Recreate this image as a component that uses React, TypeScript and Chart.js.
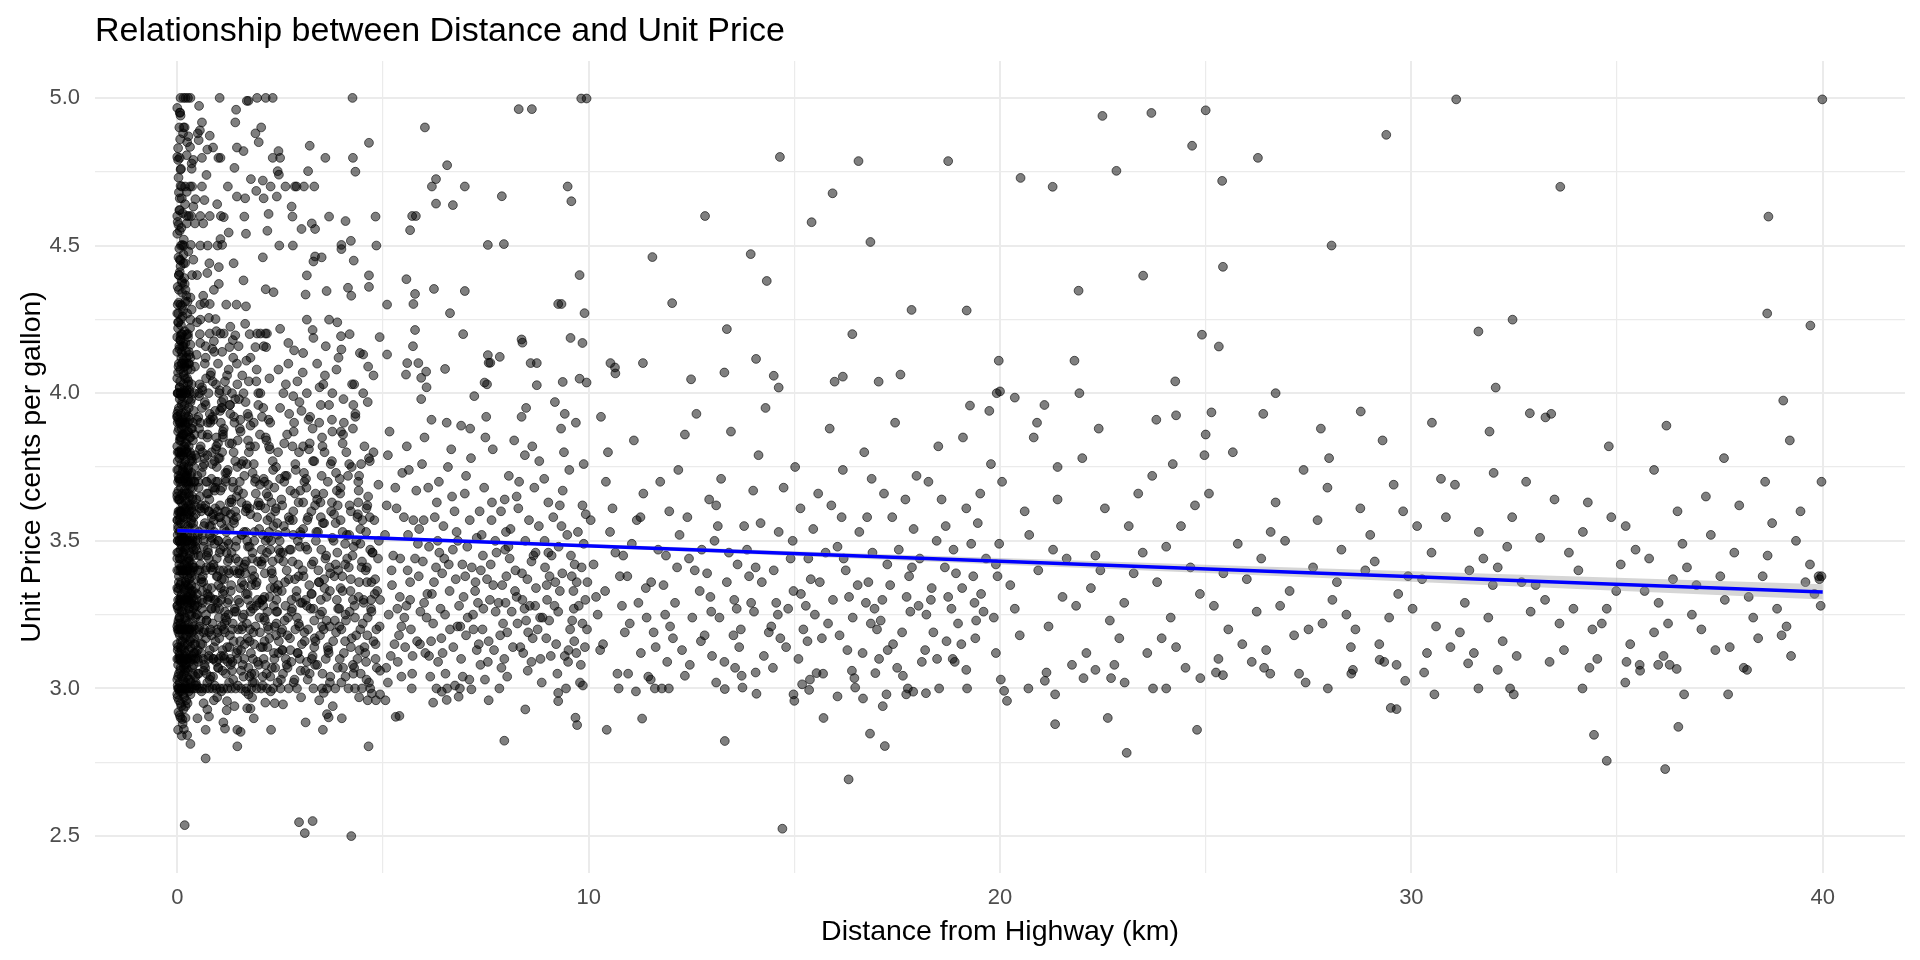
import { useEffect, useRef } from 'react';
import { Chart, registerables } from 'chart.js';

Chart.register(...registerables);

type Pt = [number, number];

const chartTitle = 'Relationship between Distance and Unit Price';
const xTitle = 'Distance from Highway (km)';
const yTitle = 'Unit Price (cents per gallon)';

const xTicks = [0, 5, 10, 15, 20, 25, 30, 35, 40];
const yTicks = [2.5, 2.75, 3, 3.25, 3.5, 3.75, 4, 4.25, 4.5, 4.75, 5];

// distance (km), unit price
const coreColumn: Pt[] = [
  [0.02,3.00],[0.05,3.00],[0.09,3.00],[0.13,3.00],[0.18,3.00],[0.22,3.00],[0.27,3.00],[0.31,3.00],[0.36,3.00],[0.41,3.00],
  [0.03,3.10],[0.07,3.10],[0.12,3.10],[0.16,3.10],[0.21,3.10],[0.26,3.10],[0.33,3.10],[0.39,3.10],
  [0.01,3.20],[0.06,3.20],[0.10,3.20],[0.15,3.20],[0.20,3.20],[0.24,3.20],[0.29,3.20],[0.35,3.20],[0.43,3.20],
  [0.02,3.30],[0.08,3.30],[0.11,3.30],[0.17,3.30],[0.23,3.30],[0.28,3.30],[0.34,3.30],[0.40,3.30],
  [0.04,3.40],[0.09,3.40],[0.14,3.40],[0.19,3.40],[0.25,3.40],[0.32,3.40],[0.38,3.40],
  [0.01,3.50],[0.06,3.50],[0.12,3.50],[0.18,3.50],[0.24,3.50],[0.30,3.50],[0.37,3.50],[0.44,3.50],
  [0.03,3.60],[0.08,3.60],[0.15,3.60],[0.21,3.60],[0.28,3.60],[0.35,3.60],
  [0.02,3.70],[0.07,3.70],[0.13,3.70],[0.20,3.70],[0.27,3.70],[0.33,3.70],[0.42,3.70],
  [0.05,3.80],[0.10,3.80],[0.16,3.80],[0.23,3.80],[0.31,3.80],
  [0.01,3.90],[0.06,3.90],[0.12,3.90],[0.19,3.90],[0.26,3.90],[0.38,3.90],
  [0.03,4.00],[0.09,4.00],[0.14,4.00],[0.22,4.00],[0.30,4.00],[0.41,4.00],
  [0.04,4.10],[0.11,4.10],[0.18,4.10],[0.29,4.10],
  [0.04,3.05],[0.11,3.04],[0.19,3.06],[0.27,3.03],[0.36,3.07],[0.02,3.14],[0.09,3.16],[0.17,3.13],[0.25,3.15],[0.33,3.17],
  [0.42,3.12],[0.05,3.24],[0.13,3.26],[0.21,3.23],[0.30,3.25],[0.39,3.27],[0.03,3.34],[0.10,3.36],[0.18,3.33],[0.26,3.35],
  [0.35,3.38],[0.44,3.34],[0.06,3.44],[0.14,3.46],[0.22,3.43],[0.31,3.45],[0.40,3.47],[0.02,3.54],[0.09,3.56],[0.17,3.53],
  [0.26,3.55],[0.34,3.57],[0.05,3.64],[0.12,3.66],[0.20,3.63],[0.29,3.65],[0.38,3.68],[0.03,3.74],[0.10,3.76],[0.18,3.73],
  [0.27,3.75],[0.36,3.77],[0.06,3.84],[0.14,3.86],[0.22,3.83],[0.32,3.85],[0.02,3.94],[0.11,3.96],[0.19,3.93],[0.28,3.95],
  [0.07,4.04],[0.16,4.06],[0.26,4.03],[0.05,4.15],[0.13,4.13],[0.02,4.22],[0.09,4.25],[0.01,2.97],[0.08,2.95],[0.15,2.98],
  [0.03,2.92],[0.22,2.96],
  [0.00,3.03],[0.17,3.08],[0.06,3.11],[0.29,3.19],[0.12,3.21],[0.02,3.27],[0.24,3.29],[0.09,3.31],[0.33,3.32],[0.15,3.39],
  [0.05,3.42],[0.27,3.41],[0.20,3.48],[0.00,3.46],[0.11,3.52],[0.32,3.51],[0.07,3.58],[0.23,3.59],[0.14,3.62],[0.03,3.67],
  [0.28,3.69],[0.18,3.71],[0.09,3.79],[0.35,3.78],[0.00,3.82],[0.21,3.81],[0.13,3.89],[0.30,3.91],[0.06,3.98],[0.17,4.01],
  [0.25,4.08],[0.02,4.07],[0.10,4.12],[0.20,4.17],[0.00,4.19],[0.14,4.28],[0.04,4.35],[0.22,4.33],[0.08,4.43],[0.16,4.52],
  [0.01,4.58],[0.11,4.66],[0.03,4.73],[0.07,4.86],
  [0.01,3.13],[0.08,3.07],[0.14,3.18],[0.20,3.12],[0.26,3.06],[0.32,3.14],[0.37,3.22],[0.03,3.23],[0.10,3.26],[0.18,3.24],
  [0.27,3.31],[0.04,3.36],[0.12,3.41],[0.21,3.35],[0.30,3.43],[0.08,3.47],[0.16,3.51],[0.26,3.58],[0.02,3.55],[0.10,3.63],
  [0.19,3.66],[0.33,3.62],[0.05,3.71],[0.13,3.74],[0.24,3.72],[0.01,3.77],[0.09,3.84],[0.17,3.82],[0.27,3.87],[0.03,3.91],
  [0.12,3.97],[0.21,3.92],[0.34,3.98],[0.06,4.02],[0.15,4.07],[0.08,4.18],[0.18,4.21],[0.28,4.14],[0.03,4.27],[0.11,4.38],
  [0.19,4.44],[0.05,4.49],[0.13,4.61],[0.02,4.79],
  [0.00,3.34],[0.00,3.57],[0.00,3.74],[0.00,3.93],[0.00,3.21],[0.00,3.10],[0.00,4.05],[0.00,3.65],[0.00,3.44],[0.00,3.28],
];

const coreExtra: Pt[] = [
  [0.01,3.01],[0.06,3.02],[0.10,2.99],[0.14,3.03],[0.19,3.01],[0.23,3.04],[0.28,2.99],[0.33,3.02],[0.38,3.05],[0.43,3.01],
  [0.02,3.08],[0.07,3.06],[0.11,3.09],[0.16,3.07],[0.21,3.08],[0.25,3.10],[0.30,3.09],[0.35,3.11],[0.40,3.08],[0.44,3.10],
  [0.00,3.15],[0.05,3.12],[0.09,3.14],[0.13,3.16],[0.18,3.15],[0.22,3.18],[0.27,3.13],[0.31,3.16],[0.36,3.19],[0.41,3.15],
  [0.03,3.19],[0.08,3.22],[0.12,3.20],[0.17,3.21],[0.21,3.24],[0.26,3.22],[0.30,3.20],[0.34,3.25],[0.39,3.21],[0.44,3.24],
  [0.01,3.28],[0.05,3.26],[0.10,3.29],[0.14,3.27],[0.19,3.30],[0.24,3.28],[0.29,3.27],[0.33,3.29],[0.38,3.31],[0.42,3.28],
  [0.02,3.33],[0.07,3.35],[0.11,3.32],[0.16,3.34],[0.20,3.36],[0.25,3.33],[0.29,3.37],[0.34,3.35],[0.39,3.33],[0.43,3.37],
  [0.00,3.40],[0.04,3.38],[0.09,3.41],[0.13,3.39],[0.18,3.42],[0.23,3.40],[0.27,3.44],[0.32,3.39],[0.36,3.42],[0.41,3.41],
  [0.03,3.46],[0.07,3.44],[0.12,3.48],[0.16,3.45],[0.21,3.47],[0.25,3.50],[0.30,3.46],[0.35,3.49],[0.40,3.45],[0.44,3.48],
  [0.01,3.52],[0.06,3.50],[0.10,3.53],[0.15,3.51],[0.19,3.55],[0.24,3.52],[0.28,3.54],[0.33,3.56],[0.37,3.51],[0.42,3.54],
  [0.02,3.59],[0.06,3.57],[0.11,3.60],[0.15,3.58],[0.20,3.61],[0.24,3.63],[0.29,3.59],[0.34,3.61],[0.39,3.58],[0.43,3.62],
  [0.00,3.66],[0.05,3.64],[0.09,3.68],[0.14,3.65],[0.18,3.67],[0.23,3.69],[0.28,3.66],[0.32,3.68],[0.37,3.65],[0.41,3.70],
  [0.03,3.72],[0.08,3.71],[0.12,3.73],[0.17,3.76],[0.21,3.72],[0.26,3.74],[0.31,3.77],[0.35,3.73],[0.40,3.75],
  [0.01,3.80],[0.05,3.78],[0.10,3.81],[0.14,3.79],[0.19,3.83],[0.23,3.80],[0.28,3.82],[0.33,3.79],[0.38,3.84],
  [0.02,3.87],[0.07,3.85],[0.11,3.88],[0.16,3.86],[0.20,3.89],[0.25,3.87],[0.30,3.85],[0.36,3.88],[0.42,3.86],
  [0.00,3.92],[0.04,3.95],[0.09,3.93],[0.13,3.91],[0.18,3.96],[0.22,3.94],[0.27,3.92],[0.32,3.97],[0.40,3.94],
  [0.01,4.00],[0.06,4.02],[0.11,3.99],[0.15,4.03],[0.20,4.00],[0.24,4.05],[0.29,4.01],[0.35,4.03],
  [0.03,4.09],[0.07,4.08],[0.12,4.10],[0.17,4.09],[0.22,4.12],[0.27,4.10],[0.33,4.08],
  [0.00,4.14],[0.05,4.16],[0.10,4.20],[0.15,4.17],[0.21,4.14],[0.26,4.19],[0.31,4.22],
  [0.02,4.24],[0.08,4.30],[0.13,4.26],[0.19,4.31],[0.24,4.27],[0.01,4.36],[0.06,4.41],[0.12,4.34],[0.17,4.39],
  [0.03,4.46],[0.09,4.50],[0.15,4.47],[0.00,4.54],[0.06,4.62],[0.10,4.56],[0.04,4.68],[0.09,4.76],[0.02,4.83],[0.05,4.90],
  [0.04,2.96],[0.10,2.94],[0.17,2.97],[0.25,2.95],[0.32,2.98],[0.06,2.91],[0.13,2.88],[0.02,2.86],
];

const coreDense: Pt[] = [
  [0.02,3.04],[0.19,3.17],[0.08,3.29],[0.27,3.43],[0.14,3.58],[0.04,3.71],[0.22,3.86],[0.11,3.99],[0.29,4.13],[0.16,3.05],
  [0.06,3.18],[0.24,3.31],[0.12,3.44],[0.01,3.57],[0.20,3.72],[0.09,3.85],[0.27,3.98],[0.15,4.11],[0.03,4.24],[0.21,3.02],
  [0.10,3.13],[0.28,3.27],[0.17,3.40],[0.05,3.53],[0.23,3.66],[0.13,3.79],[0.00,3.92],[0.19,4.05],[0.07,4.18],[0.25,4.31],
  [0.14,3.09],[0.02,3.22],[0.21,3.36],[0.09,3.49],[0.28,3.62],[0.16,3.75],[0.04,3.88],[0.23,4.01],[0.11,4.14],[0.00,4.27],
  [0.18,3.11],[0.06,3.24],[0.25,3.38],[0.13,3.51],[0.02,3.64],[0.20,3.77],[0.08,3.90],[0.27,4.04],[0.15,4.16],[0.04,4.40],
  [0.22,3.07],[0.10,3.20],[0.29,3.34],[0.17,3.47],[0.05,3.60],[0.24,3.73],[0.12,3.86],[0.01,4.00],[0.19,4.09],[0.08,4.45],
  [0.03,3.00],[0.12,3.00],[0.21,3.00],[0.07,3.10],[0.24,3.10],[0.03,3.20],[0.18,3.20],[0.06,3.30],[0.26,3.30],[0.14,3.40],
  [0.02,3.50],[0.21,3.50],[0.10,3.60],[0.25,3.70],[0.04,3.80],[0.17,3.90],[0.08,4.00],[0.23,4.10],[0.12,4.20],[0.01,4.30],
  [0.16,4.50],[0.05,4.62],[0.11,4.70],[0.00,4.80],[0.07,4.95],[0.14,4.88],[0.03,4.57],[0.18,4.37],[0.09,4.23],[0.26,4.20],
  [0.06,2.99],[0.15,2.93],[0.00,2.98],[0.20,2.90],[0.11,2.84],
];

const nearBand: Pt[] = [
  [0.48,3.00],[0.55,3.00],[0.62,3.00],[0.70,3.00],[0.78,3.00],[0.86,3.00],[0.95,3.00],[1.04,3.00],[1.12,3.00],[1.22,3.00],
  [1.31,3.00],[1.42,3.00],[1.55,3.00],[1.68,3.00],[1.80,3.00],[1.93,3.00],
  [0.50,3.10],[0.63,3.10],[0.75,3.10],[0.88,3.10],[1.01,3.10],[1.15,3.10],[1.29,3.10],[1.46,3.10],[1.63,3.10],[1.84,3.10],
  [0.52,3.20],[0.66,3.20],[0.81,3.20],[0.97,3.20],[1.13,3.20],[1.34,3.20],[1.57,3.20],[1.77,3.20],
  [0.47,3.30],[0.60,3.30],[0.74,3.30],[0.90,3.30],[1.07,3.30],[1.25,3.30],[1.48,3.30],[1.72,3.30],[1.95,3.30],
  [0.54,3.40],[0.69,3.40],[0.85,3.40],[1.03,3.40],[1.24,3.40],[1.51,3.40],[1.82,3.40],
  [0.49,3.50],[0.64,3.50],[0.82,3.50],[1.00,3.50],[1.21,3.50],[1.44,3.50],[1.70,3.50],
  [0.58,3.60],[0.77,3.60],[0.98,3.60],[1.19,3.60],[1.41,3.60],[1.66,3.60],
  [0.51,3.70],[0.72,3.70],[0.94,3.70],[1.18,3.70],[1.52,3.70],[1.89,3.70],
  [0.61,3.80],[0.84,3.80],[1.09,3.80],[1.37,3.80],[1.74,3.80],
  [0.56,3.90],[0.80,3.90],[1.06,3.90],[1.39,3.90],[1.86,3.90],
  [0.53,4.00],[0.76,4.00],[1.02,4.00],[1.33,4.00],[1.61,4.00],[1.97,4.00],
  [0.67,4.10],[0.99,4.10],[1.45,4.10],
  [0.50,3.05],[0.68,3.07],[0.87,3.04],[1.10,3.06],[1.36,3.03],[1.59,3.08],[1.88,3.05],[0.57,3.15],[0.79,3.13],[1.02,3.17],
  [1.27,3.14],[1.53,3.16],[1.79,3.12],[0.46,3.25],[0.71,3.23],[0.93,3.27],[1.17,3.24],[1.43,3.26],[1.69,3.22],[1.92,3.28],
  [0.59,3.36],[0.83,3.34],[1.08,3.37],[1.30,3.33],[1.62,3.35],[1.87,3.38],[0.52,3.45],[0.74,3.47],[0.96,3.44],[1.20,3.46],
  [1.49,3.43],[1.76,3.48],[0.65,3.55],[0.89,3.57],[1.14,3.54],[1.38,3.56],[1.67,3.53],[1.94,3.58],[0.55,3.65],[0.78,3.64],
  [1.05,3.67],[1.32,3.63],[1.60,3.66],[0.62,3.75],[0.91,3.77],[1.23,3.74],[1.56,3.76],[1.83,3.73],[0.73,3.85],[1.11,3.87],
  [1.47,3.84],[0.60,3.95],[0.92,3.94],[1.28,3.96],[1.71,3.93],[0.70,4.05],[1.16,4.04],[1.58,4.06],[0.85,4.15],[1.35,4.18],
  [1.78,4.12],[0.64,2.95],[0.97,2.97],[1.39,2.94],[1.73,2.98],
  [0.45,3.02],[0.58,3.12],[0.71,3.05],[0.83,3.18],[0.95,3.09],[1.08,3.21],[1.21,3.14],[0.49,3.28],[0.62,3.38],[0.76,3.31],
  [0.88,3.42],[1.00,3.35],[1.13,3.48],[1.26,3.39],[0.52,3.53],[0.66,3.61],[0.79,3.52],[0.92,3.68],[1.04,3.58],[1.18,3.71],
  [0.47,3.78],[0.60,3.86],[0.73,3.79],[0.86,3.92],[0.99,3.83],[1.12,3.98],[0.54,4.03],[0.69,4.12],[0.82,4.07],[0.95,4.21],
  [1.09,4.14],[0.48,4.24],[0.63,4.33],[0.78,4.44],[0.44,3.15],[0.57,3.23],[0.70,3.17],[0.84,3.27],[0.98,3.19],[1.11,3.32],
  [1.24,3.25],[0.50,3.40],[0.64,3.48],[0.77,3.44],[0.90,3.53],[1.03,3.46],[1.16,3.60],[0.46,3.64],[0.59,3.73],[0.72,3.66],
  [0.85,3.76],[0.98,3.70],[1.11,3.85],[0.53,3.88],[0.67,3.97],[0.80,3.91],[0.94,4.03],[1.07,3.95],[0.43,4.09],[0.56,4.17],
  [1.20,4.01],[0.61,3.33],[0.87,3.59],[1.14,3.37],[0.74,3.90],[1.01,3.24],[1.27,3.54],[0.51,3.09],[0.79,3.03],[1.06,3.11],
  [1.30,3.08],
];

const nearExtra: Pt[] = [
  [0.47,3.01],[0.59,2.99],[0.73,3.02],[0.91,3.01],[1.07,2.99],[1.26,3.02],[1.47,3.01],[1.66,2.99],[1.87,3.02],[2.08,3.01],
  [2.27,2.99],[2.44,3.02],
  [0.52,3.05],[0.66,3.08],[0.81,3.04],[0.99,3.07],[1.18,3.05],[1.34,3.09],[1.55,3.06],[1.76,3.04],[1.98,3.08],[2.17,3.05],[2.38,3.07],
  [0.46,3.12],[0.61,3.15],[0.77,3.11],[0.93,3.16],[1.10,3.13],[1.28,3.18],[1.44,3.12],[1.64,3.15],[1.85,3.19],[2.03,3.14],
  [2.24,3.17],[2.46,3.12],
  [0.54,3.21],[0.70,3.25],[0.86,3.22],[1.02,3.27],[1.20,3.23],[1.39,3.26],[1.58,3.21],[1.79,3.28],[2.00,3.24],[2.20,3.21],[2.41,3.26],
  [0.48,3.32],[0.63,3.36],[0.80,3.31],[0.96,3.38],[1.14,3.33],[1.31,3.35],[1.52,3.39],[1.71,3.32],[1.93,3.36],[2.12,3.31],[2.33,3.37],
  [0.56,3.42],[0.72,3.45],[0.89,3.41],[1.05,3.47],[1.23,3.43],[1.42,3.48],[1.61,3.41],[1.83,3.46],[2.05,3.42],[2.26,3.47],[2.47,3.44],
  [0.50,3.52],[0.67,3.56],[0.84,3.51],[1.01,3.58],[1.19,3.53],[1.37,3.57],[1.57,3.52],[1.78,3.59],[1.99,3.54],[2.21,3.51],[2.43,3.56],
  [0.58,3.62],[0.75,3.66],[0.92,3.61],[1.09,3.68],[1.27,3.63],[1.48,3.67],[1.69,3.62],[1.91,3.66],[2.14,3.61],[2.36,3.68],
  [0.49,3.72],[0.65,3.76],[0.83,3.71],[1.00,3.78],[1.21,3.73],[1.41,3.77],[1.63,3.72],[1.86,3.76],[2.10,3.71],[2.32,3.77],
  [0.57,3.82],[0.74,3.86],[0.94,3.81],[1.13,3.88],[1.33,3.83],[1.54,3.87],[1.77,3.82],[2.01,3.86],[2.25,3.81],
  [0.51,3.92],[0.69,3.96],[0.88,3.91],[1.08,3.97],[1.29,3.93],[1.50,3.98],[1.73,3.92],[1.97,3.96],[2.22,3.91],
  [0.60,4.02],[0.81,4.06],[1.03,4.01],[1.25,4.08],[1.46,4.03],[1.68,4.11],[1.92,4.04],[0.47,4.13],[0.90,4.14],[1.36,4.12],
  [0.44,3.04],[0.53,3.18],[0.62,3.29],[0.71,3.41],[0.78,3.55],[0.87,3.68],[0.95,3.82],[1.04,3.94],[1.12,3.40],[1.22,3.29],
  [1.32,3.46],[1.43,3.58],[1.53,3.34],[1.62,3.25],[1.72,3.48],[1.82,3.37],[1.90,3.21],[2.02,3.62],[2.13,3.39],[2.23,3.53],
  [2.35,3.28],[2.45,3.35],
  [0.46,3.47],[0.55,3.61],[0.64,3.19],[0.73,3.34],[0.82,3.27],[0.91,3.49],[0.99,3.29],[1.07,3.56],[1.16,3.19],[1.26,3.44],
  [1.35,3.22],[1.46,3.39],[1.56,3.63],[1.67,3.43],[1.76,3.16],[1.88,3.53],[1.96,3.43],[2.07,3.30],[2.18,3.46],[2.29,3.63],
  [2.40,3.18],
];

const nearDense: Pt[] = [
  [0.31,3.03],[1.37,3.16],[0.82,3.55],[2.09,3.28],[0.55,3.81],[1.64,3.42],[1.09,3.95],[2.21,3.69],[0.43,3.28],[1.93,4.08],
  [0.68,3.62],[1.23,3.09],[0.96,3.75],[2.37,3.21],[1.52,3.88],[0.36,3.48],[1.80,3.35],[0.61,4.01],[2.08,3.52],[1.16,3.26],
  [0.89,3.14],[1.44,3.65],[2.30,3.39],[0.48,3.91],[1.73,3.07],[1.03,3.78],[2.01,3.19],[0.75,3.46],[1.30,3.59],[2.44,3.33],
  [0.33,3.72],[1.59,3.24],[0.86,4.04],[1.87,3.50],[1.13,3.11],[2.15,3.85],[0.58,3.37],[1.41,3.98],[1.98,3.63],[0.41,3.17],
  [1.69,3.76],[0.93,3.30],[2.26,3.04],[1.19,3.57],[0.52,3.68],[1.78,3.89],[0.71,3.23],[2.40,3.61],[1.27,3.83],[0.38,3.41],
  [1.55,3.13],[0.99,3.50],[2.04,3.43],[0.64,3.06],[1.84,3.27],[1.35,3.70],[0.45,3.59],[2.12,3.16],[0.79,3.93],[1.62,3.53],
  [1.06,3.34],[2.33,3.74],[0.34,3.88],[1.48,3.20],[0.91,3.67],[1.95,3.09],[0.57,3.45],[2.19,3.57],[1.21,4.06],[0.73,3.32],
  [1.75,3.61],[0.40,3.12],[1.11,3.86],[2.47,3.47],[0.66,3.78],[1.38,3.40],[1.90,3.71],[0.49,3.25],[1.66,3.97],[0.84,3.58],
  [2.24,3.31],[1.00,3.07],[1.57,3.36],[0.37,3.64],[2.06,3.92],[0.77,3.19],[1.32,3.64],[0.53,3.99],[1.82,3.44],[1.15,3.22],
  [0.95,3.85],[2.35,3.12],[0.62,3.52],[1.46,3.75],[2.00,3.29],[0.35,3.33],[1.25,3.49],[0.81,3.41],[1.71,3.17],[2.17,3.66],
  [0.44,3.79],[1.04,3.62],[1.61,3.04],[0.70,3.70],[1.89,3.82],[0.50,3.13],[1.40,3.27],[2.28,3.50],[0.87,3.10],[1.17,3.73],
  [0.39,3.56],[1.53,3.91],[0.98,3.38],[2.11,3.24],[0.60,3.27],[1.80,3.05],[0.32,4.12],[1.28,3.96],[0.76,3.60],[1.67,3.32],
];

const midBand: Pt[] = [
  [2.04,3.00],[2.18,3.00],[2.33,3.00],[2.51,3.00],[2.71,3.00],[2.91,3.00],[3.31,3.00],[3.52,3.00],[3.64,3.00],[3.84,3.00],
  [4.16,3.00],[4.32,3.00],[4.49,3.00],[4.69,3.00],
  [2.10,3.10],[2.36,3.10],[2.64,3.10],[2.98,3.10],[3.27,3.10],[3.61,3.10],[3.95,3.10],[4.38,3.10],[4.82,3.10],
  [2.22,3.20],[2.55,3.20],[2.87,3.20],[3.18,3.20],[3.56,3.20],[3.99,3.20],[4.45,3.20],
  [2.07,3.30],[2.41,3.30],[2.78,3.30],[3.12,3.30],[3.49,3.30],[3.88,3.30],[4.27,3.30],[4.71,3.30],
  [2.29,3.40],[2.66,3.40],[3.05,3.40],[3.43,3.40],[3.91,3.40],[4.58,3.40],
  [2.15,3.50],[2.49,3.50],[2.93,3.50],[3.37,3.50],[3.80,3.50],[4.35,3.50],[4.90,3.50],
  [2.38,3.60],[2.82,3.60],[3.26,3.60],[3.74,3.60],[4.22,3.60],
  [2.12,3.70],[2.60,3.70],[3.09,3.70],[3.66,3.70],[4.40,3.70],
  [2.45,3.80],[2.96,3.80],[3.58,3.80],[4.11,3.80],[4.77,3.80],
  [2.26,3.90],[2.84,3.90],[3.45,3.90],[4.05,3.90],
  [2.02,4.00],[2.58,4.00],[3.15,4.00],[3.77,4.00],[4.52,4.00],
  [2.70,4.10],[3.40,4.10],
  [2.08,3.04],[2.30,3.07],[2.57,3.05],[2.85,3.03],[3.11,3.06],[3.40,3.08],[3.72,3.04],[4.03,3.07],[4.28,3.05],[4.60,3.03],
  [4.93,3.06],[2.19,3.14],[2.47,3.16],[2.75,3.13],[3.03,3.15],[3.34,3.17],[3.68,3.12],[4.08,3.16],[4.55,3.14],[2.13,3.23],
  [2.43,3.26],[2.69,3.24],[2.95,3.22],[3.24,3.27],[3.47,3.25],[3.83,3.23],[4.19,3.26],[4.63,3.24],[2.27,3.34],[2.62,3.36],
  [2.90,3.33],[3.21,3.35],[3.57,3.37],[3.97,3.34],[4.42,3.36],[4.86,3.33],[2.11,3.44],[2.51,3.46],[2.80,3.43],[3.16,3.47],
  [3.62,3.45],[4.13,3.44],[4.74,3.46],[2.34,3.55],[2.73,3.57],[3.06,3.54],[3.54,3.56],[4.02,3.53],[4.50,3.57],[2.21,3.65],
  [2.53,3.64],[2.99,3.67],[3.48,3.63],[3.96,3.66],[4.64,3.65],[2.40,3.75],[2.88,3.74],[3.33,3.77],[3.86,3.73],[4.47,3.76],
  [2.17,3.84],[2.67,3.86],[3.22,3.83],[3.98,3.87],[2.50,3.95],[3.02,3.94],[3.69,3.96],[4.33,3.93],[2.24,4.05],[2.92,4.04],
  [3.59,4.06],[4.25,4.03],[2.37,2.95],[3.01,2.97],[3.78,2.94],[4.42,2.97],
  [1.33,3.06],[1.51,3.29],[1.69,3.61],[1.87,3.15],[2.05,3.47],[2.23,3.82],[2.41,3.22],[2.59,3.55],[2.77,3.09],[2.95,3.38],
  [3.13,3.71],[3.31,3.27],[3.49,3.58],[3.67,3.13],[3.85,3.42],[4.03,3.86],[4.21,3.33],[4.39,3.59],[4.57,3.12],[4.75,3.46],
  [4.93,3.30],[1.42,3.44],[1.60,3.77],[1.78,3.26],[1.96,3.62],[2.14,3.08],[2.32,3.43],[2.50,3.71],[2.68,3.18],[2.86,3.66],
  [3.04,3.29],[3.22,3.05],[3.40,3.64],[3.58,3.34],[3.76,3.77],[3.94,3.21],[4.12,3.52],[4.30,3.07],[4.48,3.41],[4.66,3.78],
  [4.84,3.20],[1.38,3.92],[1.74,4.04],[2.09,3.95],[2.46,4.08],[2.82,3.99],[3.19,3.91],[3.55,4.03],[3.92,4.12],[4.28,3.96],
  [4.64,4.09],[1.56,3.52],[1.91,3.35],[2.27,3.58],[2.63,3.28],[2.99,3.53],[3.36,3.16],[3.72,3.39],[4.09,3.25],[4.45,3.54],
  [4.81,3.37],[1.47,3.13],[1.83,3.02],[2.19,3.26],[2.55,3.13],[2.91,3.24],[3.27,3.42],[3.63,3.23],[3.99,3.02],[4.35,3.18],
  [4.71,3.27],[1.65,3.39],[2.01,3.69],[2.37,3.34],[2.73,3.47],[3.09,3.19],[3.45,3.36],[3.81,3.59],[4.17,3.41],[4.53,3.29],
  [4.89,3.69],[1.36,3.68],[1.72,3.84],[2.08,3.14],[2.44,3.52],[2.80,3.82],[3.16,3.57],[3.52,3.85],[3.88,3.67],[4.24,3.75],
  [4.60,3.61],
];

const midExtra: Pt[] = [
  [2.52,3.03],[2.68,3.07],[2.83,3.02],[3.00,3.06],[3.17,3.03],[3.35,3.08],[3.53,3.05],[3.71,3.02],[3.90,3.07],[4.09,3.04],
  [4.27,3.08],[4.46,3.05],[4.66,3.02],[4.85,3.07],
  [2.56,3.13],[2.74,3.17],[2.92,3.12],[3.10,3.16],[3.29,3.11],[3.47,3.18],[3.66,3.14],[3.86,3.19],[4.05,3.12],[4.24,3.17],
  [4.43,3.13],[4.62,3.18],[4.82,3.15],
  [2.61,3.23],[2.79,3.27],[2.97,3.21],[3.15,3.28],[3.33,3.23],[3.52,3.26],[3.71,3.21],[3.91,3.27],[4.10,3.23],[4.31,3.28],
  [4.51,3.22],[4.72,3.26],[4.92,3.21],
  [2.54,3.33],[2.71,3.37],[2.89,3.31],[3.07,3.38],[3.26,3.32],[3.44,3.36],[3.63,3.31],[3.82,3.38],[4.02,3.33],[4.22,3.37],
  [4.41,3.31],[4.61,3.36],[4.80,3.32],
  [2.58,3.43],[2.76,3.47],[2.94,3.42],[3.12,3.48],[3.31,3.43],[3.50,3.47],[3.70,3.41],[3.89,3.46],[4.08,3.42],[4.29,3.48],
  [4.49,3.43],[4.69,3.47],
  [2.63,3.53],[2.81,3.57],[3.00,3.52],[3.18,3.58],[3.38,3.53],[3.57,3.56],[3.77,3.51],[3.97,3.57],[4.18,3.52],[4.38,3.58],
  [4.59,3.53],[4.79,3.57],
  [2.55,3.62],[2.75,3.67],[2.95,3.63],[3.14,3.68],[3.35,3.62],[3.55,3.66],[3.76,3.63],[3.97,3.68],[4.19,3.62],[4.41,3.67],[4.62,3.62],
  [2.66,3.72],[2.87,3.76],[3.08,3.73],[3.30,3.77],[3.51,3.72],[3.73,3.76],[3.95,3.71],[4.18,3.76],[4.42,3.72],[4.68,3.77],
  [2.60,3.83],[2.83,3.87],[3.06,3.82],[3.29,3.88],[3.53,3.82],[3.77,3.87],[4.02,3.83],[4.27,3.88],[4.55,3.82],
  [2.72,3.93],[2.97,3.97],[3.23,3.92],[3.49,3.96],[3.76,3.91],[4.04,3.98],[4.33,3.92],[4.63,3.97],
  [2.64,4.03],[3.05,4.07],[3.46,4.02],[3.87,4.08],[4.30,4.03],[4.77,4.06],
  [2.53,3.19],[3.71,3.33],[2.98,3.48],[4.22,3.14],[3.36,3.66],[4.61,3.41],[2.71,3.58],[3.94,3.27],[3.15,3.09],[4.40,3.63],
  [2.86,3.37],[4.08,3.49],[3.52,3.21],[4.77,3.16],[2.62,3.72],[3.85,3.56],[3.27,3.32],[4.53,3.30],[2.93,3.12],[4.15,3.72],
  [3.60,3.44],[4.88,3.44],[2.78,3.26],[4.01,3.38],[3.42,3.53],[4.68,3.58],[3.06,3.63],[4.32,3.24],[2.57,3.46],[3.79,3.16],
  [3.20,3.81],[4.45,3.49],[2.66,3.08],[3.90,3.62],[3.33,3.14],[4.59,3.09],[3.00,3.29],[4.26,3.45],[2.82,3.52],[4.72,3.36],
];

const outerBand: Pt[] = [
  [5.12,3.02],[5.45,3.21],[5.78,3.44],[6.03,3.12],[6.31,3.63],[6.52,3.05],[6.77,3.37],[7.02,3.18],[7.28,3.51],[7.55,3.09],
  [7.81,3.29],[8.06,3.72],[8.34,3.14],[8.61,3.43],[8.88,3.24],[9.14,3.58],[9.42,3.11],[9.71,3.36],[9.96,3.20],
  [5.22,3.35],[5.51,3.58],[5.83,3.16],[6.12,3.48],[6.40,3.27],[6.66,3.81],[6.93,3.42],[7.19,3.25],[7.46,3.68],[7.70,3.13],
  [7.97,3.47],[8.25,3.31],[8.52,3.06],[8.79,3.55],[9.05,3.38],[9.33,3.88],[9.60,3.23],[9.88,3.49],
  [5.05,3.52],[5.36,3.09],[5.66,3.30],[5.95,3.76],[6.22,3.22],[6.47,3.55],[6.71,3.14],[6.99,3.66],[7.24,3.33],[7.51,3.92],
  [7.76,3.46],[8.02,3.19],[8.29,3.61],[8.57,3.28],[8.83,3.10],[9.10,3.45],[9.37,3.67],[9.65,3.16],[9.92,3.30],
  [5.30,3.68],[5.60,3.40],[5.91,3.26],[6.18,3.91],[6.45,3.12],[6.82,3.50],[7.10,3.03],[7.38,3.40],[7.64,3.57],[7.92,3.22],
  [8.19,3.84],[8.46,3.50],[8.72,3.34],[8.97,3.17],[9.26,3.26],[9.53,3.74],[9.81,3.08],
  [5.16,3.87],[5.42,3.44],[5.72,3.11],[6.08,3.32],[6.36,3.70],[6.60,3.42],[6.88,3.21],[7.14,3.78],[7.42,3.20],[7.68,3.35],
  [7.95,3.10],[8.22,3.40],[8.48,3.95],[8.76,3.20],[9.02,3.63],[9.30,3.33],[9.57,3.45],[9.85,3.62],
  [5.28,3.15],[5.57,3.28],[5.88,3.54],[6.15,3.04],[6.44,3.39],[6.74,3.60],[7.05,3.48],[7.33,3.15],[7.60,3.30],[7.87,3.60],
  [8.13,3.26],[8.41,3.12],[8.68,3.68],[8.94,3.41],[9.21,3.15],[9.48,3.52],[9.76,3.28],
  [5.09,3.62],[5.63,3.74],[6.26,3.58],[6.90,3.89],[7.48,3.03],[8.10,3.54],[8.63,3.82],[9.18,3.97],[9.69,3.90],[5.93,3.98],
  [7.22,3.99],[8.37,3.92],[6.56,3.00],[7.83,3.00],[9.45,3.00],[5.70,3.00],
  [5.14,3.25],[5.41,3.31],[5.68,3.20],[5.97,3.43],[6.24,3.36],[6.51,3.25],[6.79,3.53],[7.06,3.24],[7.35,3.60],[7.62,3.42],
  [7.90,3.35],[8.16,3.14],[8.44,3.27],[8.71,3.46],[8.99,3.30],[9.27,3.48],[9.55,3.20],[9.83,3.41],
  [5.25,3.45],[5.54,3.14],[5.81,3.67],[6.06,3.24],[6.33,3.50],[6.62,3.33],[6.90,3.10],[7.16,3.41],[7.44,3.27],[7.73,3.50],
  [8.00,3.38],[8.27,3.22],[8.55,3.57],[8.82,3.24],[9.08,3.11],[9.36,3.39],[9.63,3.33],[9.91,3.14],
  [5.35,3.27],[5.87,3.38],[6.42,3.17],[6.96,3.31],[7.53,3.37],[8.08,3.44],[8.64,3.17],[9.19,3.36],[9.74,3.53],[5.61,3.52],
  [6.17,3.16],[6.70,3.47],[7.28,3.13],[7.85,3.18],[8.39,3.30],[8.93,3.50],[9.50,3.09],[5.19,3.11],[5.74,3.57],[6.29,3.41],
  [6.85,3.28],[7.40,3.52],[7.98,3.29],[8.51,3.37],[9.04,3.23],[9.59,3.38],[5.47,3.73],[6.58,3.75],[7.67,3.81],[8.80,3.77],
  [9.40,3.80],[6.01,3.85],[7.12,3.88],[8.25,3.65],
];

const outerExtra: Pt[] = [
  [5.08,3.07],[5.39,3.18],[5.71,3.05],[6.00,3.29],[6.34,3.09],[6.63,3.20],[6.94,3.04],[7.25,3.36],[7.57,3.16],[7.88,3.07],
  [8.21,3.33],[8.53,3.19],[8.86,3.02],[9.17,3.28],[9.51,3.13],[9.85,3.22],
  [5.21,3.40],[5.52,3.24],[5.85,3.49],[6.19,3.32],[6.49,3.44],[6.81,3.21],[7.11,3.57],[7.43,3.45],[7.74,3.26],[8.05,3.48],
  [8.38,3.39],[8.70,3.28],[9.02,3.46],[9.34,3.55],[9.66,3.42],[9.97,3.36],
  [5.33,3.61],[5.66,3.36],[5.99,3.57],[6.37,3.46],[6.68,3.65],[7.00,3.38],[7.31,3.29],[7.65,3.63],[7.99,3.53],[8.31,3.70],
  [8.66,3.45],[8.98,3.35],[9.30,3.62],[9.64,3.27],[9.93,3.59],
  [5.12,3.79],[5.58,3.82],[6.10,3.68],[6.55,3.90],[7.02,3.72],[7.49,3.85],[7.96,3.64],[8.45,3.79],[8.92,3.71],[9.42,3.93],
  [9.88,3.76],
  [5.45,3.04],[6.12,3.11],[6.75,3.01],[7.37,3.08],[8.02,3.04],[8.61,3.09],[9.24,3.05],[9.79,3.02],[5.90,3.15],[7.20,3.20],
  [8.48,3.23],[9.70,3.12],
];

const tenToTwenty: Pt[] = [
  [10.12,3.42],[10.35,3.15],[10.58,3.61],[10.81,3.28],[11.05,3.49],[11.27,3.12],[11.52,3.36],[11.74,3.70],[11.98,3.21],[12.21,3.52],
  [12.46,3.08],[12.70,3.33],[12.93,3.64],[13.18,3.24],[13.41,3.46],[13.66,3.14],[13.90,3.38],[14.13,3.79],[14.38,3.19],[14.62,3.53],
  [14.85,3.27],[15.10,3.10],[15.34,3.44],[15.58,3.66],[15.82,3.22],[16.05,3.48],[16.29,3.13],[16.54,3.35],[16.77,3.58],[17.01,3.20],
  [17.26,3.42],[17.50,3.07],[17.73,3.31],[17.97,3.72],[18.21,3.25],[18.46,3.50],[18.70,3.16],[18.93,3.39],[19.18,3.61],[19.42,3.23],
  [19.66,3.44],[19.90,3.12],
  [10.22,3.25],[10.47,3.80],[10.70,3.05],[10.94,3.38],[11.17,3.57],[11.41,3.24],[11.63,3.14],[11.88,3.45],[12.10,3.29],[12.34,3.86],
  [12.58,3.40],[12.82,3.18],[13.06,3.50],[13.30,3.09],[13.54,3.30],[13.78,3.55],[14.02,3.26],[14.26,3.11],[14.50,3.40],[14.74,3.68],
  [14.98,3.33],[15.22,3.20],[15.46,3.54],[15.70,3.05],[15.94,3.30],[16.18,3.74],[16.42,3.24],[16.66,3.12],[16.90,3.46],[17.14,3.30],
  [17.38,3.58],[17.62,3.19],[17.86,3.41],[18.10,3.09],[18.34,3.34],[18.58,3.64],[18.82,3.27],[19.06,3.15],[19.30,3.49],[19.54,3.32],
  [19.78,3.76],
  [10.05,3.57],[10.40,3.33],[10.88,3.19],[11.33,3.66],[11.82,3.35],[12.27,3.13],[12.75,3.47],[13.22,3.71],[13.70,3.20],[14.18,3.56],
  [14.66,3.17],[15.15,3.61],[15.62,3.36],[16.10,3.18],[16.58,3.53],[17.06,3.10],[17.54,3.47],[18.02,3.28],[18.50,3.82],[18.98,3.22],
  [19.46,3.56],[19.94,3.38],
  [10.30,3.92],[11.10,3.84],[11.96,3.60],[12.62,3.93],[13.46,3.87],[14.30,3.95],[15.02,3.75],[15.86,3.88],[16.70,3.80],[17.45,3.90],
  [18.26,3.70],[19.10,3.85],[19.74,3.94],
  [10.65,3.46],[11.45,3.04],[12.15,3.41],[12.98,3.26],[13.85,3.47],[14.56,3.29],[15.40,3.37],[16.25,3.40],[17.18,3.66],[17.90,3.54],
  [18.66,3.41],[19.60,3.26],[13.10,3.62],[16.95,3.27],
  [10.18,3.31],[10.76,3.38],[11.21,3.29],[11.69,3.47],[12.05,3.17],[12.52,3.24],[12.88,3.39],[13.36,3.36],[13.95,3.29],[14.44,3.21],
  [14.91,3.44],[15.28,3.28],[15.76,3.46],[16.33,3.31],[16.86,3.22],[17.33,3.35],[17.82,3.26],[18.38,3.19],[18.87,3.47],[19.35,3.38],
  [19.85,3.24],
  [10.52,3.53],[11.00,3.22],[11.58,3.19],[12.40,3.58],[13.00,3.11],[13.62,3.42],[14.21,3.36],[14.80,3.14],[15.50,3.25],[16.15,3.58],
  [16.80,3.36],[17.40,3.15],[18.05,3.44],[18.74,3.31],[19.40,3.17],[19.98,3.49],
  [10.28,3.13],[10.84,3.45],[11.39,3.34],[11.91,3.09],[12.44,3.44],[12.96,3.31],[13.52,3.18],[14.06,3.41],[14.60,3.25],[15.16,3.32],
  [15.67,3.17],[16.20,3.44],[16.74,3.29],[17.27,3.13],[17.79,3.38],[18.32,3.30],[18.85,3.10],[19.38,3.29],[19.90,3.42],
  [10.42,3.70],[11.26,3.58],[12.18,3.74],[13.14,3.55],[14.00,3.67],[14.96,3.50],[15.90,3.62],[16.88,3.71],[17.70,3.64],[18.68,3.55],
  [19.52,3.66],
  [10.96,3.05],[11.86,3.25],[12.73,3.16],[13.60,3.27],[14.48,3.07],[15.32,3.16],[16.40,3.06],[17.10,3.23],[18.18,3.13],[19.08,3.34],
];

const farBand: Pt[] = [
  [20.25,3.35],[20.71,3.52],[21.18,3.21],[21.62,3.44],[22.10,3.12],[22.55,3.61],[23.02,3.29],[23.47,3.46],[23.93,3.17],[24.40,3.55],
  [24.86,3.32],[25.31,3.10],[25.78,3.49],[26.24,3.26],[26.70,3.63],[27.15,3.18],[27.61,3.41],[28.08,3.30],[28.53,3.14],[29.00,3.52],
  [29.46,3.24],[29.92,3.38],[30.38,3.12],[30.84,3.58],[31.30,3.29],[31.75,3.44],[32.22,3.16],[32.68,3.36],[33.13,3.51],[33.60,3.22],
  [34.06,3.40],[34.52,3.10],[34.98,3.33],[35.45,3.47],[35.90,3.19],[36.36,3.37],[36.82,3.25],[37.28,3.52],[37.74,3.14],[38.20,3.31],
  [38.66,3.45],[39.12,3.21],[39.58,3.36],[39.95,3.28],
  [20.05,3.70],[20.48,3.18],[20.93,3.40],[21.40,3.64],[21.85,3.28],[22.32,3.45],[22.78,3.08],[23.25,3.39],[23.70,3.72],[24.15,3.24],
  [24.63,3.41],[25.08,3.66],[25.55,3.20],[26.00,3.37],[26.47,3.13],[26.93,3.50],[27.38,3.74],[27.84,3.22],[28.30,3.47],[28.76,3.61],
  [29.22,3.15],[29.68,3.32],[30.14,3.55],[30.60,3.21],[31.06,3.69],[31.52,3.12],[31.98,3.35],[32.45,3.58],[32.90,3.26],[33.36,3.09],
  [33.83,3.46],[34.29,3.63],[34.75,3.27],[35.21,3.55],[35.67,3.33],[36.13,3.11],[36.59,3.49],[37.05,3.20],[37.51,3.38],[37.97,3.62],
  [38.43,3.17],[38.89,3.27],[39.35,3.50],[39.80,3.32],
  [20.36,3.27],[20.82,3.85],[21.29,3.47],[21.75,3.08],[22.21,3.34],[22.67,3.23],[23.13,3.55],[23.58,3.12],[24.04,3.48],[24.51,3.07],
  [24.97,3.79],[25.43,3.39],[25.89,3.15],[26.35,3.44],[26.81,3.28],[27.27,3.05],[27.72,3.57],[28.19,3.36],[28.64,3.20],[29.11,3.43],
  [29.57,3.69],[30.03,3.27],[30.49,3.46],[30.95,3.14],[31.41,3.40],[31.87,3.24],[32.33,3.48],[32.79,3.70],[33.25,3.30],[33.71,3.13],
  [34.17,3.53],[34.63,3.22],[35.09,3.42],[35.55,3.08],[36.01,3.29],[36.47,3.60],[36.93,3.35],[37.39,3.13],[37.85,3.46],[38.31,3.24],
  [38.77,3.56],[39.23,3.11],[39.69,3.42],
  [20.60,3.60],[21.08,3.96],[21.52,3.31],[22.00,3.78],[22.44,3.40],[22.90,3.17],[23.36,3.66],[23.82,3.36],[24.28,3.14],[24.74,3.62],
  [25.20,3.28],[25.66,3.80],[26.12,3.09],[26.58,3.53],[27.04,3.33],[27.50,3.20],[27.96,3.68],[28.42,3.25],[28.88,3.40],[29.34,3.09],
  [29.80,3.60],[30.26,3.37],[30.72,3.71],[31.18,3.19],[31.64,3.53],[32.10,3.41],[32.56,3.11],[33.02,3.35],[33.48,3.64],[33.94,3.27],
  [34.40,3.20],[34.86,3.58],[35.32,3.15],[35.78,3.44],[36.24,3.22],[36.70,3.41],[37.16,3.65],[37.62,3.30],[38.08,3.07],[38.54,3.38],
  [39.00,3.18],[39.46,3.60],[39.90,3.38],
  [20.90,3.90],[22.40,3.88],[23.80,3.91],[25.00,3.86],[26.40,3.93],[27.80,3.88],[29.30,3.84],[30.50,3.90],[31.90,3.87],[33.40,3.93],
  [34.80,3.82],[36.20,3.89],[37.60,3.78],[39.20,3.84],[21.40,3.75],[24.20,3.76],[28.00,3.78],[32.00,3.73],[35.90,3.74],[38.60,3.70],
  [39.97,3.70],[39.97,3.38],[39.92,3.37],
];

const highNear: Pt[] = [
  [0.08,5.0],[0.15,5.0],[0.2,5.0],[0.26,5.0],[0.32,5.0],[1.03,5.0],[1.69,4.99],[1.73,4.99],[1.94,5.0],[2.15,5.0],[2.32,5.0],[4.26,5.0],
  [0.53,4.973],[1.43,4.96],[0.0,4.966],[0.06,4.95],[0.08,4.94],[1.41,4.917],[0.6,4.917],[0.15,4.9],[0.18,4.9],[0.55,4.89],[0.5,4.88],
  [2.04,4.9],[1.9,4.88],[1.98,4.85],[0.79,4.872],[0.27,4.87],[0.24,4.85],[0.31,4.834],[0.52,4.857],[0.87,4.832],[0.73,4.825],[3.22,4.838],
  [4.66,4.848],[1.45,4.832],[1.61,4.82],[2.46,4.82],[2.32,4.797],[2.5,4.797],[3.6,4.797],[4.27,4.797],[0.06,4.797],[0.23,4.806],[0.39,4.79],
  [0.6,4.797],[1.0,4.797],[1.05,4.797],[0.35,4.778],[0.08,4.757],[0.35,4.76],[1.39,4.763],[2.44,4.752],[2.47,4.74],[3.18,4.752],[4.33,4.75],
  [0.71,4.739],[1.79,4.725],[2.08,4.72],
  [1.23,4.7],[1.92,4.685],[2.27,4.7],[2.63,4.7],[2.86,4.7],[2.9,4.7],[3.08,4.7],[3.33,4.7],[0.08,4.702],[0.19,4.7],[0.31,4.7],[0.36,4.7],
  [0.6,4.7],[0.23,4.682],
  [0.06,4.66],[0.19,4.64],[0.44,4.657],[0.66,4.654],[1.45,4.666],[1.65,4.66],[2.1,4.66],[2.42,4.666],[0.39,4.632],[0.97,4.64],[2.78,4.632],
  [2.22,4.607],[2.8,4.598],[3.69,4.598],[4.09,4.583],[4.82,4.598],[0,4.6],[0.23,4.6],[0.28,4.6],[0.34,4.6],[0.56,4.6],[0.79,4.6],[1.06,4.6],
  [1.13,4.596],[1.63,4.598],[0.23,4.575],[0.43,4.575],[0.63,4.575],[0.06,4.55],
  [1.05,4.522],[1.25,4.544],[1.09,4.502],[1.67,4.54],[2.19,4.55],[3.02,4.556],[3.27,4.575],[3.35,4.556],[3.99,4.488],[4.22,4.516],
  [3.99,4.502],[4.29,4.449],
  [0.12,4.502],[0.33,4.502],[0.56,4.5],[0.74,4.5],[0.98,4.5],[2.48,4.5],[2.81,4.5],[4.84,4.5],
  [0.27,4.48],[0.06,4.452],[0.15,4.44],[0.39,4.452],[1.37,4.44],[2.08,4.46],[3.35,4.463],[3.51,4.46],[3.31,4.446],
  [0.36,4.4],[0.48,4.4],[0.73,4.407],[1.01,4.427],[0.04,4.4],[3.15,4.399],[4.66,4.399],
  [0.12,4.373],[0.2,4.35],[0.89,4.35],[1.01,4.37],[1.61,4.382],[2.15,4.352],[2.34,4.342],[3.12,4.334],[3.63,4.346],[4.15,4.357],
  [4.23,4.33],[4.66,4.36],
  [0.04,4.307],[0.12,4.296],[0.32,4.324],[0.35,4.283],[0.56,4.3],[0.66,4.305],[0.79,4.302],[1.19,4.3],[1.44,4.3],[1.67,4.294],[5.1,4.3],
  [0.32,4.249],[0.56,4.249],[0.77,4.255],[0.93,4.251],[1.65,4.235],[3.15,4.249],[3.69,4.249],[3.89,4.24],
  [0.08,4.193],[0.23,4.2],[0.55,4.2],[0.79,4.202],[1.05,4.202],[1.13,4.202],[1.29,4.225],[1.41,4.196],[1.76,4.2],[1.94,4.202],
  [2.02,4.202],[2.14,4.202],[2.18,4.202],[2.5,4.218],[3.29,4.214],[3.98,4.193],[4.19,4.2],[4.92,4.19],
  [0.12,4.159],[0.32,4.164],[0.69,4.159],[0.89,4.176],[1.27,4.156],[1.49,4.159],[1.9,4.156],[2.1,4.159],[2.16,4.156],[2.7,4.17],
  [2.84,4.145],[3.06,4.136],[3.31,4.187],[3.61,4.159],[3.99,4.148],[4.44,4.136],[4.52,4.131],[5.1,4.131],[5.73,4.159],
];

const highMid: Pt[] = [
  [9.82,4.998],[9.95,4.998],[8.30,4.962],[8.62,4.962],[6.02,4.90],[6.56,4.772],[6.29,4.725],[6.19,4.70],[6.99,4.70],[7.89,4.667],
  [9.49,4.70],[9.58,4.65],[6.29,4.642],[6.70,4.637],[5.71,4.60],[5.80,4.60],[5.66,4.552],[12.83,4.60],[14.65,4.80],[16.56,4.786],
  [18.74,4.786],[15.93,4.677],[15.42,4.579],[16.85,4.512],[7.55,4.502],[7.94,4.505],[11.55,4.461],[13.94,4.471],[14.33,4.38],[12.03,4.305],
  [17.85,4.282],[9.78,4.40],[5.57,4.386],[6.24,4.353],[6.99,4.346],[5.78,4.336],[5.74,4.302],[6.63,4.271],[9.26,4.302],[9.34,4.302],
  [9.90,4.271],[5.78,4.214],[6.95,4.20],[8.37,4.182],[8.39,4.171],[9.56,4.187],[9.85,4.17],[13.36,4.217],[16.41,4.20],[7.55,4.129],
  [7.57,4.103],[7.61,4.103],[7.84,4.123],[5.59,4.102],[5.86,4.102],[6.51,4.082],[6.05,4.073],[5.56,4.063],[5.93,4.052],[8.59,4.102],
  [8.74,4.102],[10.53,4.102],[10.64,4.087],[10.65,4.067],[11.32,4.102],[14.07,4.116],[13.30,4.07],[14.50,4.059],[16.18,4.056],[15.98,4.039],
  [17.58,4.063],[17.05,4.039],[12.49,4.047],[7.47,4.036],[7.53,4.03],[8.74,4.027],[9.37,4.038],[9.78,4.049],[9.95,4.036],[6.06,4.02],
  [14.62,4.019],
];

const highFar: Pt[] = [
  [22.49,4.939],[23.68,4.949],[25.0,4.958],[24.67,4.838],[29.39,4.875],[26.27,4.797],[22.83,4.753],[20.5,4.729],[21.28,4.699],[25.4,4.719],
  [28.06,4.5],[25.42,4.428],[23.48,4.398],[21.91,4.347],[19.19,4.28],[24.91,4.198],[25.32,4.158],[19.97,4.11],[21.81,4.11],[24.26,4.04],
  [19.92,4.0],[20.0,4.006],[20.36,3.985],[21.93,4.0],[26.7,4.0],[19.27,3.958],[24.28,3.925],[25.14,3.935],[28.77,3.938],
  [31.09,4.995],[39.99,4.995],[33.62,4.699],[38.68,4.598],[38.65,4.27],[39.7,4.229],[31.63,4.209],[32.46,4.249],[32.05,4.019],[39.04,3.975],
  [32.88,3.932],[33.26,3.918],
];

const lowTail: Pt[] = [
  [0.08,2.901],[0.16,2.862],[0.24,2.842],[0.32,2.812],[0.69,2.763],[0.12,2.896],[0.49,2.899],[0.73,2.929],[0.77,2.905],[0.69,2.86],
  [0.2,2.94],[0.89,2.96],[1.2,2.926],[1.12,2.885],[1.16,2.864],[1.46,2.804],[1.46,2.86],[1.54,2.853],[1.21,2.957],[1.7,2.933],
  [1.78,2.932],[1.86,2.899],[1.82,2.969],[2.14,2.952],[2.28,2.86],[2.57,2.946],[3.12,2.885],[3.64,2.913],[3.68,2.902],[4.0,2.899],
  [3.54,2.86],[3.45,2.96],[3.56,2.985],[4.65,2.804],[4.63,2.96],[4.83,2.96],[5.06,2.96],[4.93,2.98],[4.73,2.983],[5.31,2.904],
  [5.4,2.907],[6.22,2.952],[6.55,2.961],[6.84,2.972],[7.15,2.997],[7.57,2.96],[7.95,2.823],[8.46,2.929],[9.26,2.957],[9.26,2.985],
  [9.68,2.901],[9.72,2.876],[9.86,3.01],[6.3,3.0],[6.43,2.989],[6.87,3.0],
  [0.18,2.537],[2.96,2.547],[3.29,2.551],[3.1,2.51],[4.23,2.5],
  [10.44,2.86],[11.30,2.898],[13.31,2.822],[15.71,2.90],[16.32,2.692],[14.71,2.525],[16.84,2.847],[17.20,2.805],[17.15,2.94],[15.0,2.958],
  [14.98,2.98],[16.05,2.973],[16.67,2.966],[17.24,2.98],[17.72,2.98],[17.89,2.989],[18.2,2.984],[18.52,3.0],[20.17,2.958],[20.1,2.992],
  [21.34,2.98],[21.34,2.879],[22.62,2.90],[23.08,2.782],[24.79,2.86],[29.5,2.934],[29.64,2.93],[30.56,2.98],[32.49,2.98],[34.44,2.843],
  [34.75,2.755],[36.17,2.727],[36.49,2.87],[36.63,2.98],[37.7,2.98],[34.16,3.0],[35.2,3.02],[32.4,3.0],[31.63,3.0],[27.97,3.0],
  [27.43,3.02],[29.85,3.026],[30.31,3.054],[38.16,3.063],[36.28,3.08],[36.45,3.066],[35.56,3.06],[36.0,3.08],[35.23,3.09],[34.33,3.07],
  [32.1,3.063],[31.38,3.085],[28.54,3.05],[28.58,3.063],[29.64,3.08],[29.23,3.097],[26.57,3.05],[26.42,3.07],[25.42,3.045],[25.25,3.054],
  [24.87,3.035],[24.04,3.0],[23.72,3.0],[23.03,3.02],[22.7,3.035],[22.03,3.035],[22.32,3.063],[21.09,3.026],[21.13,3.054],[20.69,3.0],
  [20.02,3.03],[19.2,3.0],[19.18,3.063],[18.9,3.09],[18.47,3.1],[17.64,3.043],[17.76,3.0],[16.97,3.052],[16.46,3.035],[16.48,3.003],
  [15.36,2.995],[15.38,3.03],[15.54,3.052],[15.19,3.014],[14.08,2.982],[14.06,3.054],[13.74,3.003],[13.72,3.043],[13.31,2.998],[13.1,3.02],
  [13.56,3.07],[12.34,3.043],[11.95,3.0],[11.78,3.0],[11.61,3.0],[11.51,3.03],[11.15,2.99],[10.73,3.0],
];

// linear fit and its confidence band
const fitDistance = [0, 40];
const fitPrice = [3.535, 3.327];
const bandDistance = [0, 5, 10, 15, 20, 25, 30, 35, 40];
const bandLower = [3.527, 3.503, 3.477, 3.449, 3.42, 3.391, 3.361, 3.331, 3.301];
const bandUpper = [3.543, 3.515, 3.489, 3.465, 3.442, 3.419, 3.397, 3.375, 3.353];

const FONT = '"Liberation Sans", Arial, Helvetica, sans-serif';

const textPlugin = {
  id: 'plotText',
  afterDraw(chart: Chart) {
    const { ctx, chartArea } = chart;
    ctx.save();
    ctx.fillStyle = '#000000';
    ctx.textBaseline = 'alphabetic';
    ctx.textAlign = 'left';
    ctx.font = `34px ${FONT}`;
    ctx.fillText(chartTitle, chartArea.left, 41);
    ctx.font = `28.5px ${FONT}`;
    ctx.textAlign = 'center';
    ctx.fillText(xTitle, (chartArea.left + chartArea.right) / 2, 940);
    ctx.translate(40, (chartArea.top + chartArea.bottom) / 2);
    ctx.rotate(-Math.PI / 2);
    ctx.fillText(yTitle, 0, 0);
    ctx.restore();
  },
};

const isMajorY = (v: number) => Math.abs(v * 2 - Math.round(v * 2)) < 1e-6;

export default function App() {
  const canvasRef = useRef<HTMLCanvasElement>(null);

  useEffect(() => {
    if (!canvasRef.current) return;
    const points = [
      ...coreColumn, ...coreExtra, ...coreDense, ...nearBand, ...nearExtra, ...nearDense,
      ...midBand, ...midExtra, ...outerBand, ...outerExtra, ...tenToTwenty, ...farBand,
      ...highNear, ...highMid, ...highFar, ...lowTail,
    ].map(([x, y]) => ({ x, y }));

    const chart = new Chart(canvasRef.current, {
      type: 'scatter',
      data: {
        datasets: [
          {
            label: 'stations',
            data: points,
            pointRadius: 4.4,
            pointHoverRadius: 4.4,
            borderWidth: 1,
            backgroundColor: 'rgba(0,0,0,0.5)',
            borderColor: 'rgba(0,0,0,0.6)',
            order: 3,
          },
          {
            type: 'line',
            label: 'lower',
            data: bandDistance.map((x, i) => ({ x, y: bandLower[i] })),
            pointRadius: 0,
            borderWidth: 0,
            borderColor: 'rgba(0,0,0,0)',
            fill: false,
            order: 2,
          },
          {
            type: 'line',
            label: 'upper',
            data: bandDistance.map((x, i) => ({ x, y: bandUpper[i] })),
            pointRadius: 0,
            borderWidth: 0,
            borderColor: 'rgba(0,0,0,0)',
            backgroundColor: 'rgba(153,153,153,0.4)',
            fill: '-1',
            order: 2,
          },
          {
            type: 'line',
            label: 'fit',
            data: fitDistance.map((x, i) => ({ x, y: fitPrice[i] })),
            pointRadius: 0,
            borderWidth: 3.5,
            borderColor: '#0000FF',
            fill: false,
            order: 1,
          },
        ],
      },
      options: {
        responsive: false,
        animation: false,
        layout: { padding: { top: 61, right: 15, bottom: 0, left: 0 } },
        plugins: {
          legend: { display: false },
          tooltip: { enabled: false },
          title: { display: false },
        },
        scales: {
          x: {
            type: 'linear',
            min: -2,
            max: 42,
            afterBuildTicks: (scale: any) => {
              scale.ticks = xTicks.map((value) => ({ value }));
            },
            afterFit: (scale: any) => {
              scale.height = 87;
            },
            ticks: {
              autoSkip: false,
              maxRotation: 0,
              minRotation: 0,
              padding: 12,
              color: '#4D4D4D',
              font: { family: FONT, size: 22 },
              callback: (v: any) => (Number(v) % 10 === 0 ? String(v) : ''),
            },
            grid: {
              color: '#EBEBEB',
              drawTicks: false,
              lineWidth: (c: any) => (c.tick && c.tick.value % 10 === 0 ? 2 : 1.2),
            },
            border: { display: false },
          },
          y: {
            type: 'linear',
            min: 2.375,
            max: 5.125,
            afterBuildTicks: (scale: any) => {
              scale.ticks = yTicks.map((value) => ({ value }));
            },
            afterFit: (scale: any) => {
              scale.width = 95;
            },
            ticks: {
              autoSkip: false,
              padding: 15,
              color: '#4D4D4D',
              font: { family: FONT, size: 22 },
              callback: (v: any) => (isMajorY(Number(v)) ? Number(v).toFixed(1) : ''),
            },
            grid: {
              color: '#EBEBEB',
              drawTicks: false,
              lineWidth: (c: any) => (c.tick && isMajorY(c.tick.value) ? 2 : 1.2),
            },
            border: { display: false },
          },
        },
      },
      plugins: [textPlugin],
    });

    return () => {
      chart.destroy();
    };
  }, []);

  return (
    <div style={{ position: 'absolute', left: 0, top: 0, width: 1920, height: 960, background: '#FFFFFF' }}>
      <canvas ref={canvasRef} width={1920} height={960} style={{ display: 'block' }} />
    </div>
  );
}
